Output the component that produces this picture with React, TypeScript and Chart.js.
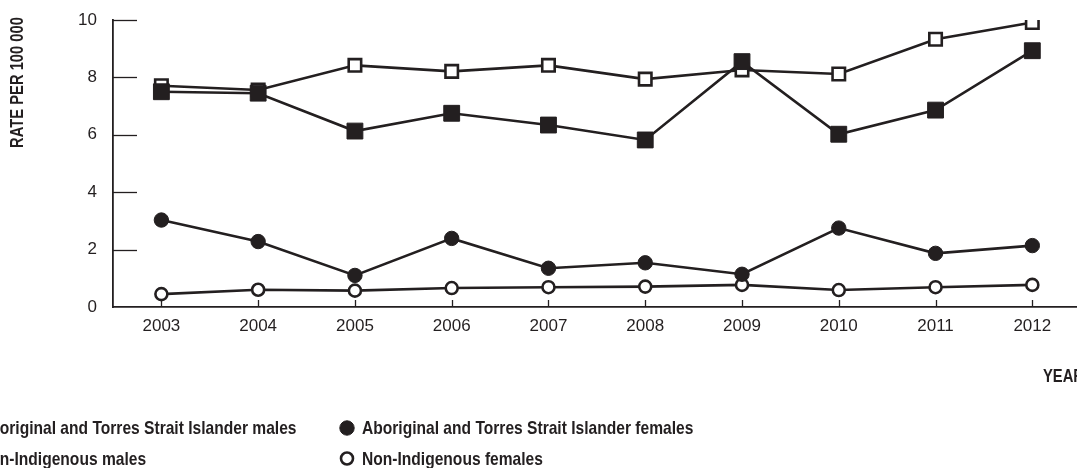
import React, { useEffect, useRef } from 'react';
import { Chart, registerables } from 'chart.js';

Chart.register(...registerables);

const years = ['2003', '2004', '2005', '2006', '2007', '2008', '2009', '2010', '2011', '2012'];
const aboriginalMales = [7.5, 7.45, 6.13, 6.75, 6.34, 5.82, 8.55, 6.02, 6.86, 8.93];
const nonIndigenousMales = [7.71, 7.56, 8.42, 8.21, 8.42, 7.94, 8.26, 8.12, 9.33, 9.91];
const aboriginalFemales = [3.03, 2.28, 1.1, 2.39, 1.35, 1.54, 1.14, 2.75, 1.87, 2.14];
const nonIndigenousFemales = [0.45, 0.6, 0.57, 0.66, 0.69, 0.71, 0.77, 0.59, 0.69, 0.77];
const seriesLabels = [
  'Aboriginal and Torres Strait Islander males',
  'Non-Indigenous males',
  'Aboriginal and Torres Strait Islander females',
  'Non-Indigenous females',
];
const yMin = 0;
const yMax = 10;
const yStep = 2;
const yTitle = 'RATE PER 100 000';
const xTitle = 'YEAR';

const INK = '#231f20';
const FONT = "'Liberation Sans', Arial, sans-serif";
const CONDENSE = 0.82;

const CANVAS_W = 1100;
const CANVAS_H = 468;

function drawMarker(ctx: CanvasRenderingContext2D, ds: any, x: number, y: number) {
  const r = ds.pointRadius;
  ctx.save();
  ctx.beginPath();
  if (ds.pointStyle === 'rect') {
    const s = Math.SQRT1_2 * r;
    ctx.rect(x - s, y - s, 2 * s, 2 * s);
  } else {
    ctx.arc(x, y, r, 0, Math.PI * 2);
  }
  ctx.fillStyle = ds.pointBackgroundColor;
  ctx.fill();
  ctx.lineWidth = ds.pointBorderWidth;
  ctx.strokeStyle = ds.pointBorderColor;
  ctx.stroke();
  ctx.restore();
}

function condensedText(ctx: CanvasRenderingContext2D, text: string, x: number, y: number, rotate = 0) {
  ctx.save();
  ctx.translate(x, y);
  if (rotate) ctx.rotate(rotate);
  ctx.scale(CONDENSE, 1);
  ctx.fillText(text, 0, 0);
  ctx.restore();
}

const decorPlugin = {
  id: 'decor',
  beforeDatasetsDraw(chart: any) {
    const { ctx, chartArea, scales } = chart;
    ctx.save();
    ctx.strokeStyle = INK;
    ctx.lineWidth = 1.3;
    for (let v = yMin + yStep; v <= yMax; v += yStep) {
      const py = Math.round(scales.y.getPixelForValue(v)) + 0.5;
      ctx.beginPath();
      ctx.moveTo(chartArea.left, py);
      ctx.lineTo(chartArea.left + 24, py);
      ctx.stroke();
    }
    years.forEach((_, i) => {
      const px = Math.round(scales.x.getPixelForValue(i)) + 0.5;
      ctx.beginPath();
      ctx.moveTo(px, chartArea.bottom);
      ctx.lineTo(px, chartArea.bottom - 7);
      ctx.stroke();
    });
    ctx.restore();
  },
  afterDraw(chart: any) {
    const { ctx } = chart;
    ctx.save();
    ctx.fillStyle = INK;
    ctx.font = `bold 18px ${FONT}`;
    ctx.textAlign = 'center';
    ctx.textBaseline = 'middle';
    condensedText(ctx, yTitle, 18.5, 82.5, -Math.PI / 2);
    ctx.textAlign = 'left';
    condensedText(ctx, xTitle, 1043, 377);
    ctx.font = `bold 19px ${FONT}`;
    const slots = [
      { col: 0, row: 0 },
      { col: 0, row: 1 },
      { col: 1, row: 0 },
      { col: 1, row: 1 },
    ];
    const markerX = [-35, 347];
    const textX = [-21, 362];
    const rowY = [428, 458.5];
    chart.data.datasets.forEach((ds: any, i: number) => {
      const s = slots[i];
      drawMarker(ctx, ds, markerX[s.col], rowY[s.row]);
      ctx.fillStyle = INK;
      condensedText(ctx, ds.label, textX[s.col], rowY[s.row] + 1);
    });
    ctx.restore();
  },
};

export default function App() {
  const ref = useRef<HTMLCanvasElement | null>(null);
  useEffect(() => {
    if (!ref.current) return;
    const line = {
      borderColor: INK,
      borderWidth: 2.6,
      tension: 0,
      pointBorderColor: INK,
    };
    const chart = new Chart(ref.current, {
      type: 'line',
      data: {
        labels: years,
        datasets: [
          {
            ...line,
            label: seriesLabels[0],
            data: aboriginalMales,
            pointStyle: 'rect',
            pointRadius: 11.2,
            pointBackgroundColor: INK,
            pointBorderWidth: 1,
          },
          {
            ...line,
            label: seriesLabels[1],
            data: nonIndigenousMales,
            pointStyle: 'rect',
            pointRadius: 8.8,
            pointBackgroundColor: '#ffffff',
            pointBorderWidth: 2.6,
          },
          {
            ...line,
            label: seriesLabels[2],
            data: aboriginalFemales,
            pointStyle: 'circle',
            pointRadius: 7.2,
            pointBackgroundColor: INK,
            pointBorderWidth: 1,
          },
          {
            ...line,
            label: seriesLabels[3],
            data: nonIndigenousFemales,
            pointStyle: 'circle',
            pointRadius: 6,
            pointBackgroundColor: '#ffffff',
            pointBorderWidth: 2.6,
          },
        ] as any,
      },
      options: {
        animation: false,
        responsive: false,
        devicePixelRatio: 1,
        events: [],
        layout: { padding: { left: 0, top: 20, right: CANVAS_W - 1080.7, bottom: 0 } },
        plugins: {
          legend: { display: false },
          tooltip: { enabled: false },
          title: { display: false },
        },
        scales: {
          x: {
            type: 'category',
            offset: true,
            grid: { display: true, drawOnChartArea: false, drawTicks: false },
            border: { display: true, color: INK, width: 1.8 },
            ticks: { color: INK, font: { family: FONT, size: 17 }, padding: 9, maxRotation: 0, autoSkip: false },
            afterFit: (s: any) => {
              s.height = CANVAS_H - 307;
              s.paddingLeft = 0;
              s.paddingRight = 0;
            },
          },
          y: {
            min: yMin,
            max: yMax,
            grid: { display: true, drawOnChartArea: false, drawTicks: false },
            border: { display: true, color: INK, width: 1.8 },
            ticks: { stepSize: yStep, color: INK, font: { family: FONT, size: 17 }, padding: 16 },
            afterFit: (s: any) => {
              s.width = 113;
              s.paddingTop = 0;
              s.paddingBottom = 0;
            },
          },
        },
      } as any,
      plugins: [decorPlugin],
    });
    return () => chart.destroy();
  }, []);

  return (
    <div
      style={{
        position: 'fixed',
        left: 0,
        top: 0,
        width: 1077,
        height: 468,
        overflow: 'hidden',
        background: '#ffffff',
      }}
    >
      <canvas ref={ref} width={CANVAS_W} height={CANVAS_H} style={{ display: 'block' }} />
    </div>
  );
}
